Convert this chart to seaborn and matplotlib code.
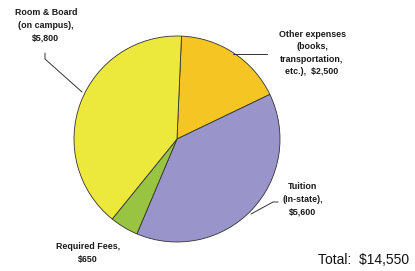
import numpy as np
import matplotlib
matplotlib.use("Agg")
import matplotlib.pyplot as plt
import seaborn as sns

# data
categories = ["Other expenses", "Tuition", "Required Fees", "Room & Board"]
amounts = [2500, 5600, 650, 5800]
colors = ["#F5C524", "#9994C9", "#98C441", "#EDE83C"]
label_texts = [
    "Other expenses\n(books,\ntransportation,\netc.),  $2,500",
    "Tuition\n(In-state),\n$5,600",
    "Required Fees,\n$650",
    "Room & Board\n(on campus),\n$5,800",
]
total_text = "Total:  $14,550"

sns.set_theme(style="white")
plt.rcParams['font.family'] = ['Liberation Sans', 'DejaVu Sans']

W, H = 415, 271
fig = plt.figure(figsize=(W / 100, H / 100), dpi=100)

# pie center / radius in pixels
cx, cy, r = 177, 139, 103
ax = fig.add_axes([(cx - r) / W, (H - cy - r) / H, 2 * r / W, 2 * r / H])
ax.pie(amounts, colors=colors, startangle=87.5, counterclock=False,
       wedgeprops=dict(edgecolor="#333333", linewidth=0.6))
ax.set_xlim(-1, 1)
ax.set_ylim(-1, 1)
ax.set_aspect("equal")
ax.axis("off")


def d(px, py):
    # pixel -> data coords
    return (px - cx) / r, (cy - py) / r


def ftext(px, py, s, **kw):
    fig.text(px / W, 1 - py / H, s, **kw)


fs = 6.4
tkw = dict(ha="center", va="center", fontsize=fs, color="#1a1a1a",
           linespacing=1.5, fontweight="bold")

# labels
ftext(312, 53, label_texts[0], **tkw)
ftext(303, 199, label_texts[1], **tkw)
ftext(88, 253, label_texts[2], **tkw)
ftext(46, 25, label_texts[3], **tkw)
ftext(364, 260, total_text, ha="center", va="center", fontsize=10, color="#111111")

# leader lines
lkw = dict(color="#333333", linewidth=0.7, clip_on=False)
pts = [d(233, 54), d(267, 54)]
ax.plot([p[0] for p in pts], [p[1] for p in pts], **lkw)
pts = [d(45, 53), d(45, 59), d(82, 92)]
ax.plot([p[0] for p in pts], [p[1] for p in pts], **lkw)
pts = [d(278, 202), d(273, 202), d(251, 214)]
ax.plot([p[0] for p in pts], [p[1] for p in pts], **lkw)

fig.savefig("out.png", dpi=100)
